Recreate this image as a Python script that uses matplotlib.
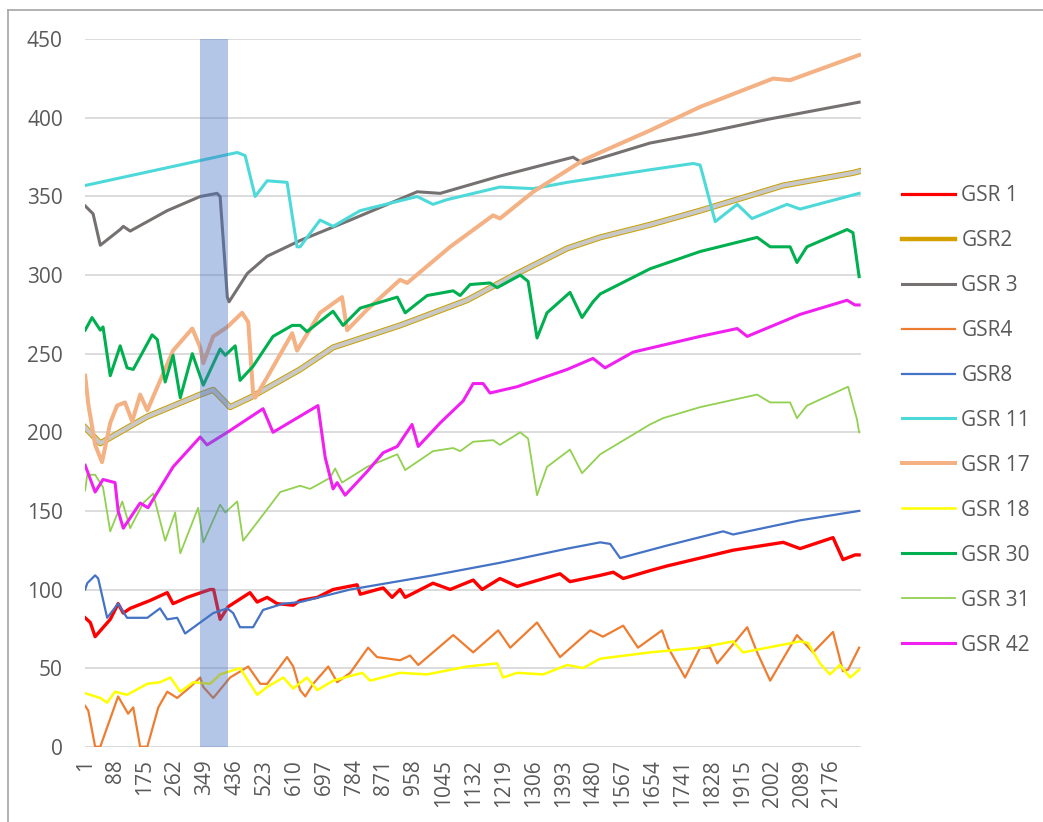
import matplotlib
matplotlib.use("Agg")
import matplotlib.pyplot as plt
from matplotlib.lines import Line2D

# sample index / value pairs
gsr1_x = [1, 16, 30, 74, 97, 112, 132, 190, 240, 257, 298, 365, 375, 394, 417, 481, 502, 531, 560, 607,
          627, 677, 723, 793, 802, 869, 895, 918, 933, 1014, 1064, 1131, 1157, 1209, 1259, 1384, 1413,
          1501, 1539, 1568, 1646, 1696, 1888, 2034, 2083, 2179, 2208, 2243, 2255]
gsr1_y = [82, 79, 70, 81, 91, 85, 88, 93, 98, 91, 95, 100, 100, 81, 89, 98, 92, 95, 91, 90,
          93, 95, 100, 103, 97, 101, 95, 100, 95, 104, 100, 106, 100, 107, 102, 110, 105,
          109, 111, 107, 112, 115, 125, 130, 126, 133, 119, 122, 122]

gsr2_x = [1, 45, 182, 336, 374, 423, 481, 627, 723, 918, 1113, 1259, 1405, 1501, 1646, 1792, 2034, 2237, 2255]
gsr2_y = [203, 193, 210, 224, 227, 216, 222, 240, 254, 268, 284, 301, 317, 324, 332, 341, 357, 365, 366]

gsr3_x = [1, 24, 45, 103, 112, 132, 240, 336, 385, 394, 415, 420, 473, 531, 627, 773, 968, 1035,
          1209, 1422, 1451, 1646, 1792, 1987, 2255]
gsr3_y = [344, 339, 319, 329, 331, 328, 341, 350, 352, 350, 286, 283, 301, 312, 322, 335, 353, 352,
          363, 375, 371, 384, 390, 399, 410]

gsr4_x = [1, 10, 30, 45, 97, 126, 141, 161, 182, 214, 240, 269, 307, 336, 345, 374, 423, 476, 511, 531,
          589, 607, 627, 642, 665, 709, 735, 773, 825, 851, 918, 947, 971, 1073, 1131, 1204, 1239, 1317,
          1384, 1472, 1509, 1568, 1611, 1681, 1699, 1748, 1792, 1821, 1842, 1929, 1958, 1996, 2074,
          2121, 2179, 2208, 2223, 2255]
gsr4_y = [26, 23, 0, 0, 32, 21, 25, 0, 0, 25, 35, 31, 38, 44, 38, 31, 44, 51, 40, 40,
          57, 51, 36, 32, 40, 51, 41, 47, 63, 57, 55, 58, 52, 71, 60, 74, 63, 79,
          57, 74, 70, 77, 63, 74, 63, 44, 63, 63, 53, 76, 60, 42, 71,
          60, 73, 48, 49, 63]

gsr8_x = [1, 7, 30, 39, 65, 97, 123, 182, 219, 240, 269, 292, 336, 374, 415, 432, 452, 490, 519, 578,
          627, 773, 1014, 1209, 1405, 1501, 1530, 1559, 1696, 1859, 1888, 2083, 2255]
gsr8_y = [100, 104, 109, 107, 82, 91, 82, 82, 88, 81, 82, 72, 79, 85, 88, 85, 76, 76, 87, 91,
          92, 100, 109, 117, 126, 130, 129, 120, 128, 137, 135, 144, 150]

gsr11_x = [1, 444, 467, 496, 531, 589, 618, 627, 685, 723, 802, 968, 1014, 1055, 1209, 1306, 1405,
           1646, 1772, 1792, 1836, 1900, 1943, 2045, 2083, 2255]
gsr11_y = [357, 378, 376, 350, 360, 359, 318, 318, 335, 331, 341, 350, 345, 348, 356, 355, 359,
           367, 371, 370, 334, 345, 336, 345, 342, 352]

gsr17_x = [1, 10, 30, 50, 74, 94, 117, 138, 161, 182, 257, 313, 336, 345, 374, 415, 458, 476, 490, 496,
           531, 604, 618, 685, 749, 764, 822, 918, 939, 1064, 1189, 1209, 1306, 1451, 1501, 1646, 1792,
           2004, 2054, 2255]
gsr17_y = [236, 218, 192, 181, 206, 217, 219, 207, 224, 214, 252, 266, 254, 244, 261, 267, 276, 270, 225, 222,
           235, 263, 252, 276, 286, 265, 278, 297, 295, 318, 338, 336, 353, 373, 378, 392, 407,
           425, 424, 440]

gsr18_x = [1, 45, 65, 88, 123, 182, 219, 249, 278, 316, 365, 394, 452, 502, 531, 578, 607, 647, 677, 723,
           808, 831, 918, 997, 1113, 1201, 1218, 1259, 1335, 1405, 1451, 1501, 1646, 1792, 1888, 1917,
           2083, 2106, 2141, 2170, 2199, 2229, 2255]
gsr18_y = [34, 31, 28, 35, 33, 40, 41, 44, 35, 41, 40, 46, 50, 33, 38, 44, 37, 44, 36, 42,
           47, 42, 47, 46, 51, 53, 44, 47, 46, 52, 50, 56, 60, 63, 67, 60,
           67, 66, 53, 46, 52, 44, 49]

gsr30_x = [1, 21, 45, 53, 74, 103, 123, 141, 196, 211, 234, 257, 278, 313, 345, 394, 409, 438, 452, 490,
           548, 604, 627, 647, 723, 752, 802, 910, 933, 997, 1073, 1093, 1122, 1180, 1201, 1268, 1291,
           1317, 1346, 1413, 1448, 1480, 1501, 1646, 1792, 1958, 1996, 2054, 2074, 2103, 2220, 2237, 2255]
gsr30_y = [265, 273, 265, 267, 236, 255, 241, 240, 262, 259, 232, 249, 222, 250, 230, 253, 249, 255, 233, 242,
           261, 268, 268, 264, 277, 268, 279, 286, 276, 287, 290, 287, 294, 295, 292, 300, 296,
           260, 276, 289, 273, 283, 288, 304, 315, 324, 318, 318, 308, 318, 329, 327, 299]

gsr31_x = [1, 7, 30, 53, 74, 109, 132, 170, 199, 234, 263, 278, 330, 345, 394, 409, 444, 461, 531, 569,
           627, 656, 714, 729, 749, 822, 910, 933, 1014, 1073, 1093, 1131, 1189, 1209, 1268, 1291, 1317,
           1346, 1413, 1448, 1501, 1646, 1684, 1792, 1958, 1996, 2054, 2074, 2103, 2223, 2249, 2255]
gsr31_y = [163, 173, 173, 165, 137, 156, 139, 155, 161, 131, 149, 123, 152, 130, 154, 149, 156, 131, 151, 162,
           166, 164, 171, 177, 168, 178, 186, 176, 188, 190, 188, 194, 195, 192, 200, 196, 160,
           178, 189, 174, 186, 205, 209, 216, 224, 219, 219, 209, 217, 229, 208, 200]

gsr42_x = [1, 30, 53, 88, 97, 112, 161, 184, 257, 336, 356, 415, 519, 548, 679, 700, 723, 735, 758, 822,
           869, 910, 953, 971, 1035, 1102, 1131, 1160, 1180, 1259, 1405, 1480, 1515, 1597, 1792, 1900,
           1929, 2083, 2220, 2243, 2255]
gsr42_y = [179, 162, 170, 168, 150, 139, 155, 152, 178, 197, 192, 200, 215, 200, 217, 184, 164, 168, 160, 175,
           187, 191, 205, 191, 206, 220, 231, 231, 225, 229, 240, 247, 241, 251, 261, 266,
           261, 275, 284, 281, 281]

x_ticks = list(range(1, 2177, 87))
band = (335, 418)

plt.rcParams['font.family'] = ['Open Sans', 'DejaVu Sans']

fig = plt.figure(figsize=(10.43, 8.22), dpi=100)
ax = fig.add_axes([0.0815, 0.0916, 0.744, 0.8606])

# GSR2 is a gold-edged grey band in the original
ax.plot(gsr2_x, gsr2_y, color='#C9A000', lw=4.4, zorder=2)
ax.plot(gsr2_x, gsr2_y, color='#C8C8C8', lw=3.0, zorder=2.1)

series = [
    (gsr1_x, gsr1_y, '#FF0000', 2.4),
    (gsr3_x, gsr3_y, '#767171', 2.2),
    (gsr4_x, gsr4_y, '#ED7D31', 1.6),
    (gsr8_x, gsr8_y, '#4472C4', 1.6),
    (gsr11_x, gsr11_y, '#4DD9D9', 2.2),
    (gsr17_x, gsr17_y, '#F4B183', 2.9),
    (gsr18_x, gsr18_y, '#FFFF00', 1.8),
    (gsr30_x, gsr30_y, '#00B050', 2.2),
    (gsr31_x, gsr31_y, '#92D050', 1.3),
    (gsr42_x, gsr42_y, '#F020F0', 2.2),
]
for xs, ys, c, lw in series:
    ax.plot(xs, ys, color=c, lw=lw, zorder=3)

ax.axvspan(band[0], band[1], ymin=0, ymax=1, color='#4472C4', alpha=0.4, lw=0, zorder=5)

ax.set_xlim(0.5, 2260.5)
ax.set_ylim(0, 450)
ax.set_yticks(range(0, 451, 50))
ax.set_xticks(x_ticks)
ax.set_xticklabels([str(t) for t in x_ticks], rotation=90)
ax.grid(axis='y', color='#D9D9D9', lw=1.3, zorder=0)
ax.set_axisbelow(True)
for s in ax.spines.values():
    s.set_visible(False)
ax.tick_params(length=0, labelsize=15, labelcolor='#595959')
ax.tick_params(axis='y', pad=16)
ax.tick_params(axis='x', pad=9)

# legend
names = ['GSR 1', 'GSR2', 'GSR 3', 'GSR4', 'GSR8', 'GSR 11', 'GSR 17', 'GSR 18', 'GSR 30', 'GSR 31', 'GSR 42']
colors = ['#FF0000', '#D4A000', '#767171', '#ED7D31', '#4472C4', '#4DD9D9', '#F4B183', '#FFFF00',
          '#00B050', '#92D050', '#F020F0']
widths = [2.3, 3.2, 2.2, 1.6, 1.6, 2.2, 2.9, 1.8, 2.2, 1.3, 2.2]
handles = [Line2D([], [], color=c, lw=w) for c, w in zip(colors, widths)]
leg = fig.legend(handles, names, loc='upper left', bbox_to_anchor=(902 / 1043, 1 - 185 / 822),
                 frameon=False, fontsize=15, labelcolor='#595959', handlelength=2.55,
                 handletextpad=0.3, labelspacing=1.15, borderpad=0, borderaxespad=0)

# chart area border (only top and left visible in the crop)
fig.add_artist(Line2D([8 / 1043, 8 / 1043], [0, 1 - 10 / 822], color='#A6A6A6', lw=1.2))
fig.add_artist(Line2D([8 / 1043, 1], [1 - 10 / 822, 1 - 10 / 822], color='#A6A6A6', lw=1.2))

fig.savefig('out.png', dpi=100)
